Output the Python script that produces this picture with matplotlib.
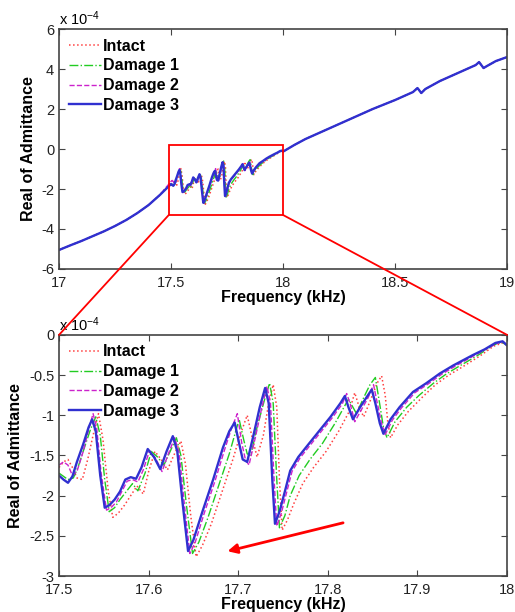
import matplotlib
matplotlib.use("Agg")
import matplotlib.pyplot as plt
from matplotlib.patches import Rectangle, ConnectionPatch

plt.rcParams['font.family'] = ['Liberation Sans', 'DejaVu Sans']
plt.rcParams['mathtext.default'] = 'regular'

# admittance values are in units of 1e-4
labels = ["Intact", "Damage 1", "Damage 2", "Damage 3"]
colors = ["#ff4040", "#22cc22", "#cc22cc", "#3030d0"]
styles = [":", "-.", "--", "-"]
widths = [1.1, 1.0, 1.0, 1.7]

# shared part of the sweep outside the zoomed band
low_f = [17.0, 17.05, 17.1, 17.15, 17.2, 17.25, 17.3, 17.35, 17.4, 17.45]
low_v = [-5.05, -4.82, -4.6, -4.36, -4.12, -3.85, -3.55, -3.2, -2.8, -2.3]
high_f = [18.05, 18.1, 18.2, 18.3, 18.4, 18.5, 18.58, 18.6, 18.607, 18.617, 18.635,
          18.7, 18.8, 18.86, 18.875, 18.885, 18.895, 18.91, 18.95, 19.0]
high_v = [0.2, 0.5, 1.0, 1.5, 2.0, 2.45, 2.85, 3.05, 2.95, 2.8, 3.0,
          3.4, 3.9, 4.2, 4.35, 4.2, 4.05, 4.15, 4.4, 4.6]

# zoomed band 17.5 - 18 kHz
intact_f = [17.500, 17.505, 17.510, 17.515, 17.520, 17.526, 17.532, 17.538, 17.544, 17.549,
            17.555, 17.560, 17.566, 17.573, 17.580, 17.587, 17.594, 17.600, 17.607, 17.614,
            17.621, 17.628, 17.636, 17.641, 17.647, 17.653, 17.660, 17.670, 17.682, 17.694,
            17.702, 17.710, 17.715, 17.721, 17.728, 17.734, 17.739, 17.743, 17.746, 17.749,
            17.755, 17.762, 17.772, 17.784, 17.798, 17.812, 17.824, 17.830, 17.835, 17.840,
            17.848, 17.855, 17.860, 17.864, 17.867, 17.870, 17.878, 17.890, 17.905, 17.920,
            17.935, 17.950, 17.970, 17.985, 17.995, 18.000]
intact_v = [-1.65, -1.58, -1.55, -1.65, -1.78, -1.80, -1.55, -1.25, -0.98, -1.30,
            -1.95, -2.27, -2.22, -2.12, -2.00, -1.88, -1.98, -1.70, -1.45, -1.55,
            -1.68, -1.50, -1.32, -1.60, -2.25, -2.76, -2.62, -2.35, -1.95, -1.55,
            -1.25, -1.00, -1.25, -1.52, -1.25, -0.85, -0.62, -0.90, -1.80, -2.43,
            -2.30, -2.10, -1.85, -1.65, -1.45, -1.20, -0.95, -0.72, -0.90, -1.02,
            -0.80, -0.60, -0.51, -0.75, -1.10, -1.28, -1.12, -0.95, -0.78, -0.62,
            -0.50, -0.40, -0.26, -0.14, -0.10, -0.13]

d1_f = [17.500, 17.505, 17.510, 17.516, 17.522, 17.529, 17.535, 17.541, 17.546, 17.551,
        17.556, 17.562, 17.568, 17.575, 17.582, 17.588, 17.596, 17.603, 17.610, 17.617,
        17.624, 17.631, 17.636, 17.642, 17.649, 17.656, 17.666, 17.678, 17.690, 17.701,
        17.706, 17.710, 17.714, 17.721, 17.729, 17.735, 17.739, 17.743, 17.746, 17.752,
        17.758, 17.768, 17.780, 17.794, 17.808, 17.819, 17.823, 17.827, 17.832, 17.840,
        17.847, 17.853, 17.857, 17.862, 17.866, 17.875, 17.888, 17.902, 17.918, 17.933,
        17.948, 17.968, 17.984, 17.994, 18.000]
d1_v = [-1.72, -1.76, -1.80, -1.78, -1.62, -1.38, -1.18, -1.02, -1.25, -1.80,
        -2.20, -2.15, -2.05, -1.95, -1.85, -1.94, -1.72, -1.45, -1.52, -1.62,
        -1.45, -1.28, -1.50, -2.10, -2.72, -2.58, -2.28, -1.88, -1.48, -1.05,
        -1.30, -1.48, -1.50, -1.15, -0.82, -0.60, -0.85, -1.80, -2.40, -2.25,
        -2.00, -1.75, -1.55, -1.35, -1.10, -0.88, -0.80, -0.88, -0.98, -0.78,
        -0.62, -0.53, -0.80, -1.15, -1.28, -1.08, -0.90, -0.75, -0.60, -0.48,
        -0.38, -0.25, -0.13, -0.09, -0.13]

d2_f = [17.500, 17.505, 17.510, 17.515, 17.520, 17.527, 17.533, 17.538, 17.542, 17.547,
        17.553, 17.558, 17.564, 17.570, 17.576, 17.582, 17.588, 17.594, 17.601, 17.608,
        17.615, 17.622, 17.629, 17.634, 17.640, 17.646, 17.652, 17.662, 17.674, 17.685,
        17.692, 17.699, 17.704, 17.708, 17.712, 17.719, 17.726, 17.732, 17.736, 17.740,
        17.743, 17.748, 17.754, 17.760, 17.769, 17.779, 17.792, 17.805, 17.816, 17.821,
        17.825, 17.830, 17.838, 17.845, 17.851, 17.855, 17.860, 17.864, 17.872, 17.882,
        17.897, 17.912, 17.927, 17.942, 17.963, 17.976, 17.988, 17.995, 18.000]
d2_v = [-1.62, -1.58, -1.62, -1.75, -1.70, -1.45, -1.18, -0.98, -1.15, -1.72,
        -2.18, -2.15, -2.08, -1.95, -1.82, -1.80, -1.83, -1.68, -1.44, -1.54,
        -1.70, -1.48, -1.28, -1.46, -2.12, -2.72, -2.58, -2.22, -1.82, -1.42,
        -1.18, -0.98, -1.35, -1.55, -1.62, -1.28, -0.92, -0.64, -0.85, -1.80,
        -2.38, -2.22, -1.96, -1.70, -1.53, -1.39, -1.21, -1.03, -0.86, -0.73,
        -0.86, -1.08, -0.92, -0.78, -0.62, -0.84, -1.10, -1.24, -1.06, -0.91,
        -0.72, -0.61, -0.49, -0.39, -0.26, -0.18, -0.11, -0.08, -0.13]

d3_f = [17.500, 17.505, 17.510, 17.515, 17.520, 17.527, 17.533, 17.537, 17.541, 17.546,
        17.551, 17.556, 17.562, 17.568, 17.574, 17.580, 17.586, 17.592, 17.599, 17.606,
        17.613, 17.620, 17.627, 17.632, 17.638, 17.644, 17.650, 17.660, 17.672, 17.683,
        17.690, 17.696, 17.701, 17.705, 17.710, 17.717, 17.724, 17.730, 17.734, 17.738,
        17.741, 17.746, 17.752, 17.758, 17.767, 17.777, 17.790, 17.803, 17.814, 17.819,
        17.823, 17.828, 17.836, 17.843, 17.849, 17.853, 17.858, 17.862, 17.870, 17.880,
        17.895, 17.910, 17.925, 17.940, 17.962, 17.975, 17.987, 17.995, 18.000]
d3_v = [-1.75, -1.80, -1.84, -1.76, -1.58, -1.36, -1.15, -1.05, -1.20, -1.75,
        -2.15, -2.12, -2.05, -1.95, -1.80, -1.77, -1.79, -1.65, -1.42, -1.52,
        -1.67, -1.45, -1.26, -1.45, -2.10, -2.69, -2.55, -2.20, -1.80, -1.40,
        -1.20, -1.09, -1.35, -1.55, -1.58, -1.25, -0.90, -0.66, -0.85, -1.80,
        -2.35, -2.20, -1.95, -1.69, -1.52, -1.38, -1.20, -1.02, -0.85, -0.76,
        -0.90, -1.05, -0.90, -0.78, -0.68, -0.85, -1.10, -1.23, -1.05, -0.90,
        -0.71, -0.60, -0.48, -0.38, -0.25, -0.18, -0.10, -0.08, -0.13]

band_f = [intact_f, d1_f, d2_f, d3_f]
band_v = [intact_v, d1_v, d2_v, d3_v]

top_xticks = [17, 17.5, 18, 18.5, 19]
top_yticks = [-6, -4, -2, 0, 2, 4, 6]
bot_xticks = [17.5, 17.6, 17.7, 17.8, 17.9, 18]
bot_yticks = [-3, -2.5, -2, -1.5, -1, -0.5, 0]

fig = plt.figure(figsize=(5.15, 6.12), dpi=100)
ax1 = fig.add_axes([0.1146, 0.5605, 0.870, 0.392])
ax2 = fig.add_axes([0.1146, 0.0588, 0.870, 0.394])

for i in range(4):
    ax1.plot(low_f + band_f[i] + high_f, low_v + band_v[i] + high_v,
             color=colors[i], ls=styles[i], lw=widths[i], label=labels[i])
    ax2.plot(band_f[i], band_v[i], color=colors[i], ls=styles[i], lw=widths[i],
             label=labels[i])

def style_axes(ax, xt, yt):
    ax.set_xticks(xt)
    ax.set_yticks(yt)
    ax.set_xticklabels([f"{t:g}" for t in xt])
    ax.set_yticklabels([f"{t:g}" for t in yt])
    ax.set_xlim(xt[0], xt[-1])
    ax.set_ylim(yt[0], yt[-1])
    ax.tick_params(direction="in", top=True, right=True, labelsize=10.5,
                   length=4, color="#444444", labelcolor="#222222")
    ax.tick_params(axis="x", pad=5)
    for s in ax.spines.values():
        s.set_color("#444444")
        s.set_linewidth(1.2)
    ax.set_xlabel("Frequency (kHz)", fontsize=11.5, fontweight="bold", labelpad=0)
    ax.set_ylabel("Real of Admittance", fontsize=11.5, fontweight="bold", labelpad=4)
    ax.text(0.0, 1.005, r"x 10$^{-4}$", transform=ax.transAxes, fontsize=10.5,
            ha="left", va="bottom")
    ax.legend(loc="upper left", frameon=False, prop={"weight": "bold", "size": 11.5},
              handlelength=2.0, handletextpad=0.15, labelspacing=0.3,
              borderaxespad=0.2, borderpad=0.4)

style_axes(ax1, top_xticks, top_yticks)
style_axes(ax2, bot_xticks, bot_yticks)

# zoom box and connectors
box_x = [17.49, 18.0]
box_y = [-3.3, 0.2]
ax1.add_patch(Rectangle((box_x[0], box_y[0]), box_x[1] - box_x[0], box_y[1] - box_y[0],
                        fill=False, ec="red", lw=1.3, zorder=5))
for bx, cx in [(box_x[0], 0.0), (box_x[1], 1.0)]:
    con = ConnectionPatch(xyA=(bx, box_y[0]), coordsA=ax1.transData,
                          xyB=(cx, 1.0), coordsB=ax2.transAxes,
                          color="red", lw=1.3, zorder=10)
    fig.add_artist(con)

ax2.annotate("", xy=(17.685, -2.70), xytext=(17.82, -2.33),
             arrowprops=dict(arrowstyle="-|>", color="red", lw=2,
                             mutation_scale=14))

fig.savefig("out.png", dpi=100)
